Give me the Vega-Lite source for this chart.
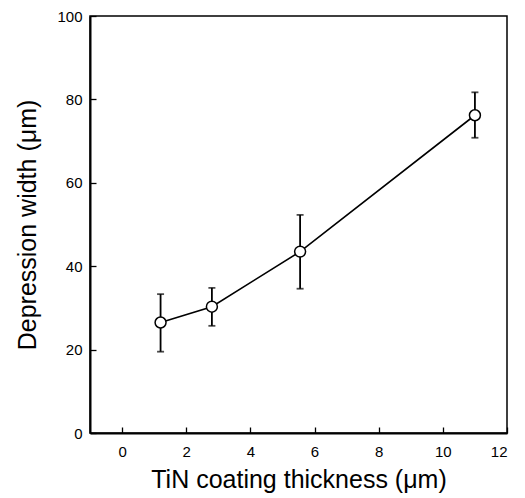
{
  "$schema": "https://vega.github.io/schema/vega-lite/v6.json",
  "autosize": "none",
  "padding": {"left": 90, "top": 16, "right": 18, "bottom": 65},
  "width": 417,
  "height": 417,
  "background": "white",
  "config": {
    "font": "Liberation Sans",
    "view": {"stroke": "black", "strokeWidth": 1.5},
    "axis": {
      "grid": false,
      "domainColor": "black",
      "domainWidth": 2,
      "tickColor": "black",
      "tickWidth": 1.3,
      "tickSize": -6,
      "labelColor": "black",
      "labelFontSize": 15,
      "titleColor": "black",
      "titleFontSize": 25,
      "titleFontWeight": "normal"
    }
  },
  "data": {
    "values": [
      {"thickness": 1.2, "width": 26.5, "lo": 19.5, "hi": 33.3},
      {"thickness": 2.8, "width": 30.3, "lo": 25.7, "hi": 34.8},
      {"thickness": 5.55, "width": 43.5, "lo": 34.6, "hi": 52.3},
      {"thickness": 11.0, "width": 76.2, "lo": 70.8, "hi": 81.7}
    ]
  },
  "encoding": {
    "x": {
      "field": "thickness",
      "type": "quantitative",
      "scale": {"domain": [-1, 12], "nice": false, "zero": false},
      "axis": {"title": "TiN coating thickness (μm)", "values": [0, 2, 4, 6, 8, 10, 12], "labelPadding": 17, "titlePadding": 8}
    }
  },
  "layer": [
    {
      "mark": {"type": "rule", "color": "black", "strokeWidth": 1.8},
      "encoding": {
        "y": {"field": "lo", "type": "quantitative", "scale": {"domain": [0, 100], "nice": false},
          "axis": {"title": "Depression width (μm)", "values": [0, 20, 40, 60, 80, 100], "labelPadding": 14, "titlePadding": 16}},
        "y2": {"field": "hi"}
      }
    },
    {
      "mark": {"type": "tick", "color": "black", "orient": "horizontal", "size": 7, "thickness": 1.8},
      "encoding": {"y": {"field": "lo", "type": "quantitative"}}
    },
    {
      "mark": {"type": "tick", "color": "black", "orient": "horizontal", "size": 7, "thickness": 1.8},
      "encoding": {"y": {"field": "hi", "type": "quantitative"}}
    },
    {
      "mark": {"type": "line", "color": "black", "strokeWidth": 1.6},
      "encoding": {"y": {"field": "width", "type": "quantitative"}}
    },
    {
      "mark": {"type": "point", "shape": "circle", "filled": true, "fill": "white", "stroke": "black", "strokeWidth": 1.5, "size": 120, "opacity": 1},
      "encoding": {"y": {"field": "width", "type": "quantitative"}}
    }
  ]
}
